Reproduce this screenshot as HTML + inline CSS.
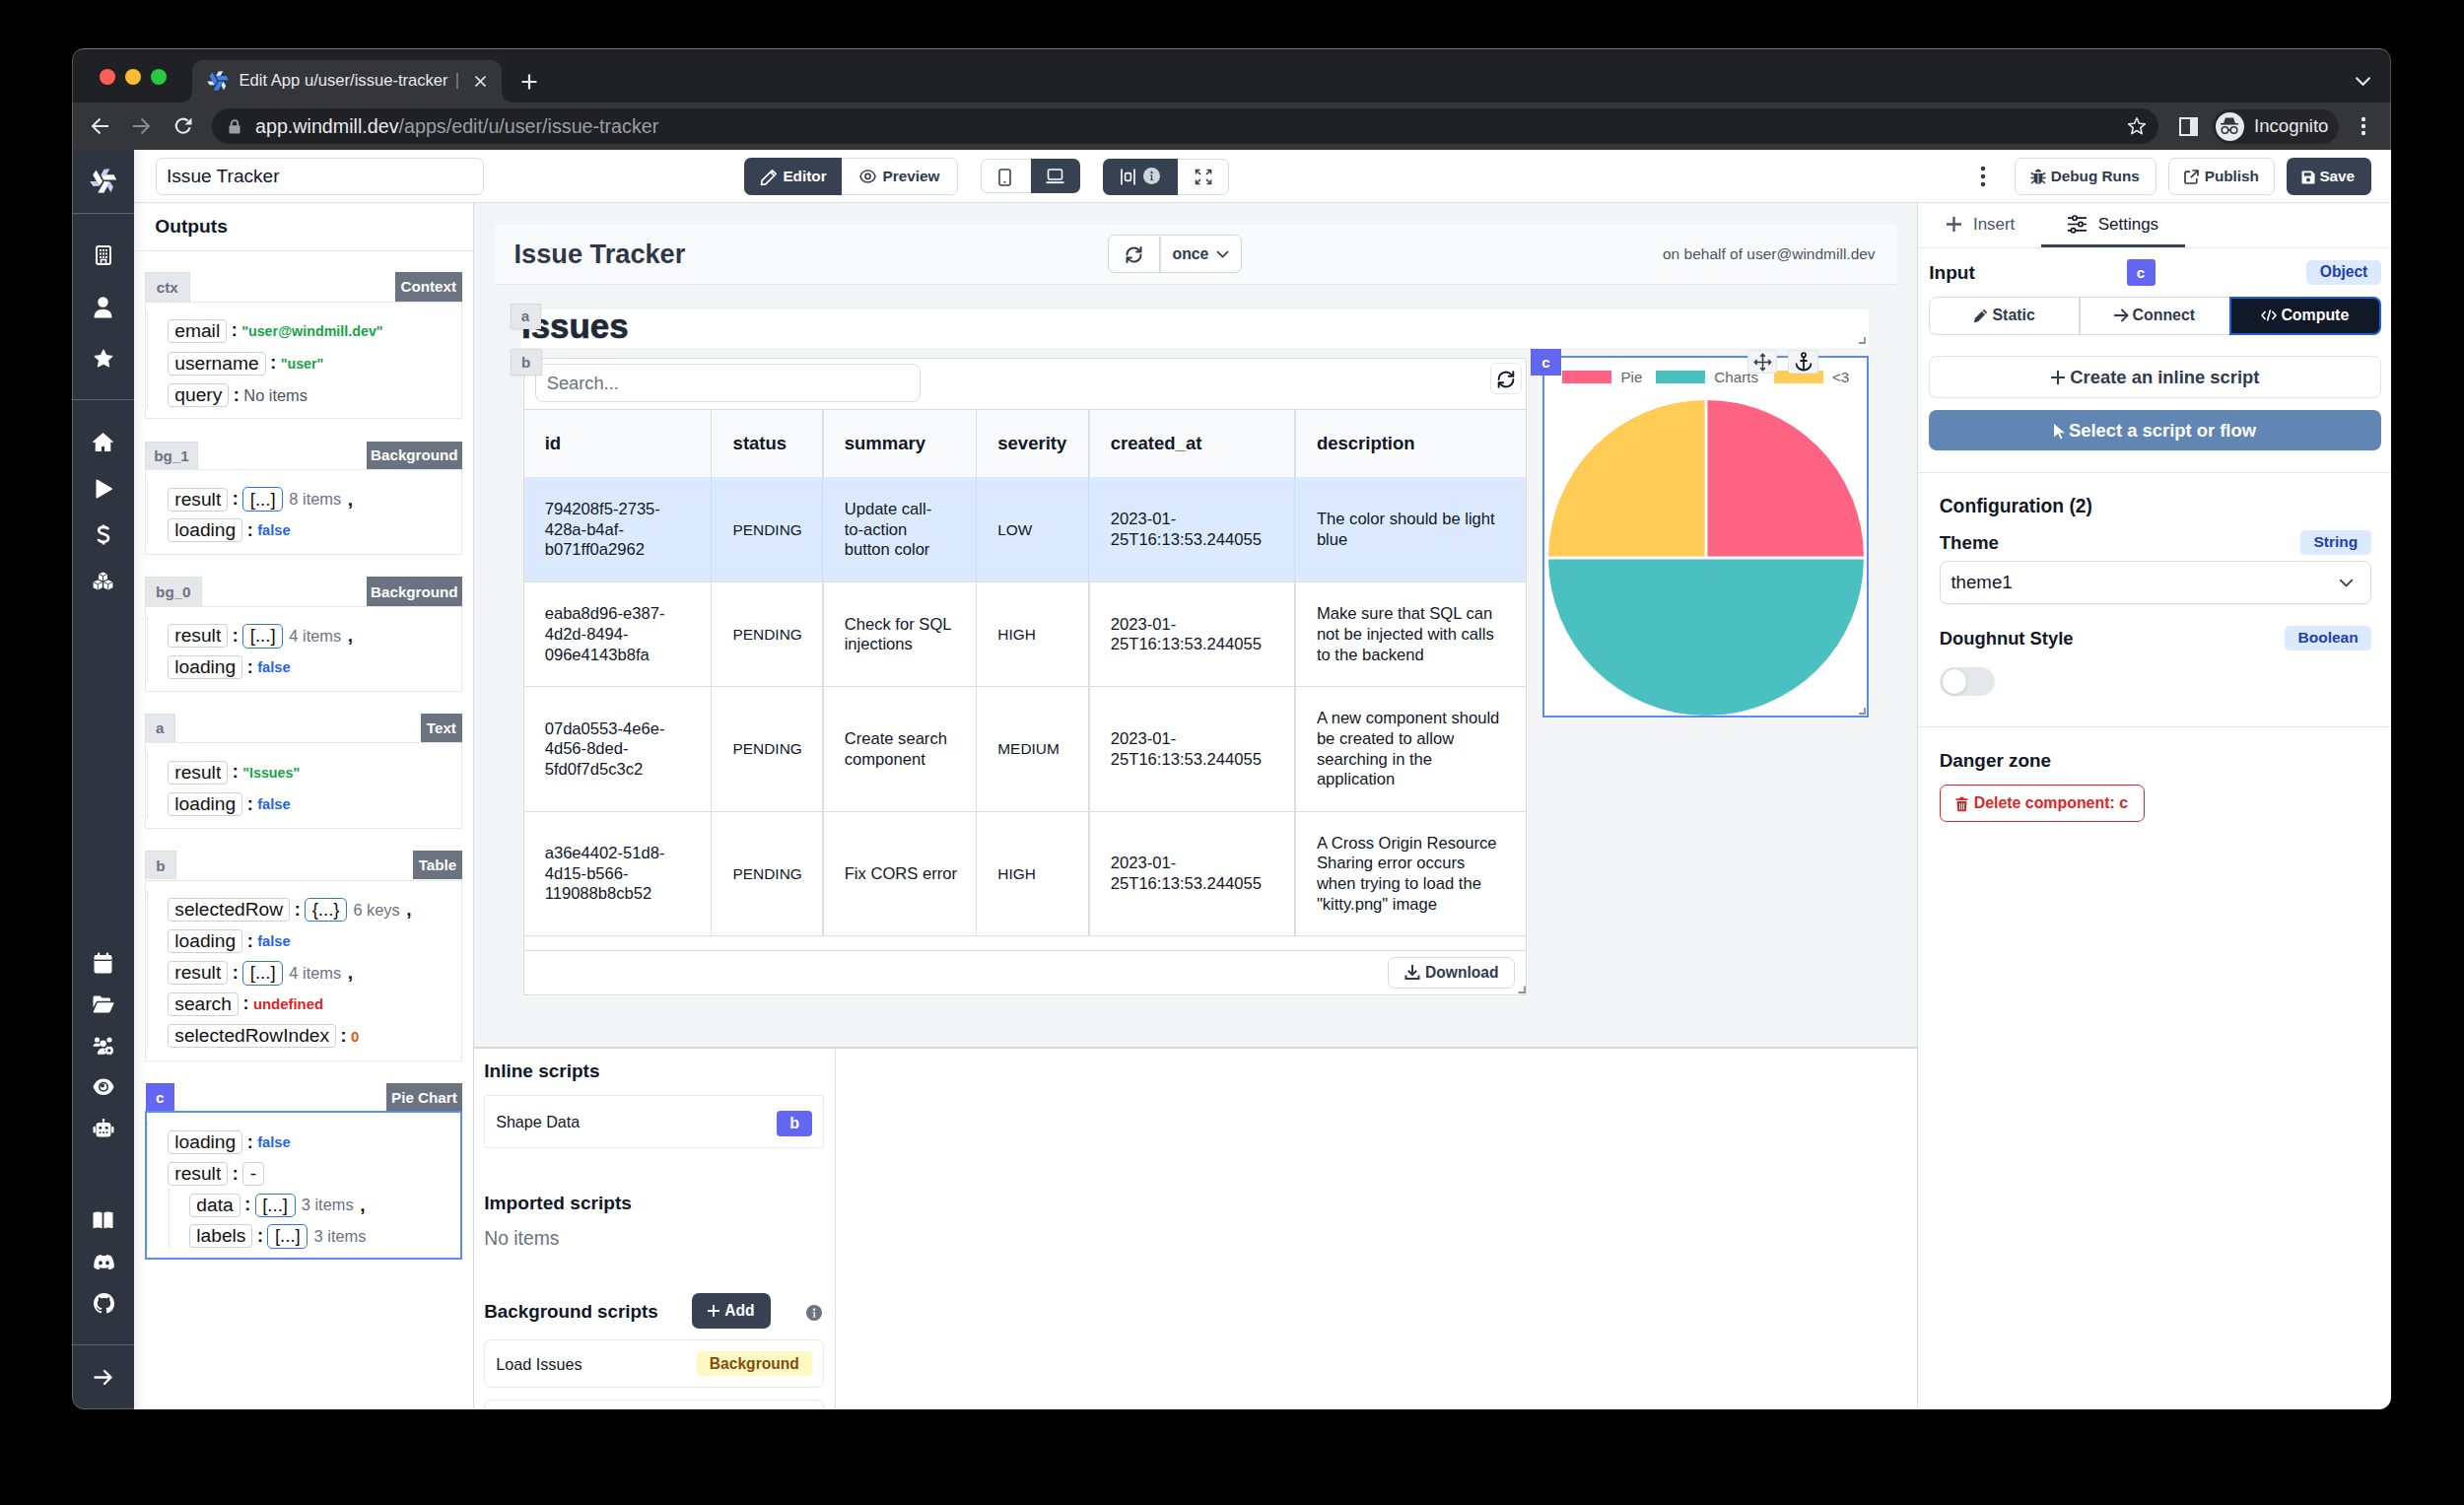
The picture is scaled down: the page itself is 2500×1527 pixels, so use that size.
<!DOCTYPE html>
<html><head><meta charset="utf-8">
<style>
*{box-sizing:border-box;margin:0;padding:0}
html,body{width:2500px;height:1527px;background:#000;overflow:hidden;font-family:"Liberation Sans",sans-serif;color:#111827}
body{position:relative}
.a{position:absolute}
.c{display:flex;align-items:center}
.cc{display:flex;align-items:center;justify-content:center}
svg{display:block}
.t{white-space:nowrap;position:absolute}
.pk{display:inline-flex;align-items:center;height:24px;padding:0 6px;border:1.2px solid #cdd0d5;border-radius:4px;font-size:19.2px;color:#111;background:#fff}
.pd{padding:0 6.5px}
.co{display:inline-block;width:15px;text-align:center;font-size:18px;font-weight:700;color:#111}
.pa{display:inline-flex;align-items:center;height:24.5px;padding:0 6.5px;border:1.7px solid #3573e0;border-radius:5px;font-size:18.6px;color:#111}
.vg{font-size:14.3px;font-weight:700;color:#16a34a}
.vb{font-size:14.7px;font-weight:700;color:#2563eb}
.vr{font-size:14.9px;font-weight:700;color:#dc2626}
.vo{font-size:15px;font-weight:700;color:#ea580c}
.vn{font-size:16.4px;color:#4b5563}
.vc{margin-left:6.3px;color:#6b7280}
.cm{margin-left:6.5px;font-size:19px;font-weight:700;color:#111}

</style></head><body>
<!-- ============ CHROME ============ -->
<svg width="0" height="0" style="position:absolute">
 <defs>
  <symbol id="wm" viewBox="-570 -510 1120 1020">
   <path fill="var(--w)" d="M-100 -260 L430 -260 L540 -40 L0 -40Z M275 43 L10 502 L-235 488 L35 20Z M-175 217 L-440 -242 L-305 -448 L-35 20Z"/>
   <path fill="var(--l)" d="M-100 -260 L20 -480 L260 -500 L130 -270Z M275 43 L406 257 L303 475 L169 248Z M-175 217 L-426 223 L-563 25 L-299 22Z"/>
  </symbol>
 </defs>
</svg>
<div class="a" style="left:73px;top:49px;width:2353px;height:1381px;background:#202124;border-radius:12px"></div>
<div class="a" style="left:73px;top:49px;width:2353px;height:20px;border-radius:11px 11px 0 0;box-shadow:inset 0 1px 0 #4a4b4e"></div>
<div class="a" style="left:100.5px;top:69.7px;width:16px;height:16px;border-radius:50%;background:#fe5f57"></div>
<div class="a" style="left:126.5px;top:69.7px;width:16px;height:16px;border-radius:50%;background:#febc2e"></div>
<div class="a" style="left:152.8px;top:69.7px;width:16px;height:16px;border-radius:50%;background:#28c840"></div>
<!-- active tab -->
<div class="a" style="left:195px;top:60.5px;width:314px;height:44px;background:#35363a;border-radius:11px 11px 0 0"></div>
<div class="a" style="left:184px;top:93px;width:11px;height:11px;background:radial-gradient(circle at 0 0,transparent 10.5px,#35363a 11px)"></div>
<div class="a" style="left:509px;top:93px;width:11px;height:11px;background:radial-gradient(circle at 100% 0,transparent 10.5px,#35363a 11px)"></div>
<svg class="a" style="left:210px;top:72px;--w:#3b82f6;--l:#dbeafe" width="22" height="20"><use href="#wm"/></svg>
<div class="t" style="left:242.5px;top:72px;height:20px;line-height:20px;font-size:16.6px;color:#e8eaed">Edit App u/user/issue-tracker</div>
<div class="a" style="left:463px;top:74px;width:1.5px;height:16px;background:#6f7074"></div>
<svg class="a" style="left:481px;top:76px" width="13" height="13" viewBox="0 0 13 13"><path d="M1.5 1.5L11.5 11.5M11.5 1.5L1.5 11.5" stroke="#e8eaed" stroke-width="1.7"/></svg>
<svg class="a" style="left:529px;top:74.5px" width="16" height="16" viewBox="0 0 16 16"><path d="M8 0.5V15.5M0.5 8H15.5" stroke="#e8eaed" stroke-width="2.2"/></svg>
<svg class="a" style="left:2389px;top:77px" width="17" height="11" viewBox="0 0 17 11"><path d="M1.5 1.8L8.5 8.8L15.5 1.8" stroke="#e8eaed" stroke-width="2" fill="none"/></svg>
<!-- toolbar -->
<div class="a" style="left:73px;top:103.5px;width:2353px;height:48.5px;background:#35363a"></div>
<svg class="a" style="left:92px;top:119px" width="19" height="18" viewBox="0 0 19 18"><path d="M18 9H2.5M9.5 1.5L2 9L9.5 16.5" stroke="#e8eaed" stroke-width="2" fill="none"/></svg>
<svg class="a" style="left:134px;top:119px" width="19" height="18" viewBox="0 0 19 18"><path d="M1 9H16.5M9.5 1.5L17 9L9.5 16.5" stroke="#8a8b8f" stroke-width="2" fill="none"/></svg>
<svg class="a" style="left:175.5px;top:118px" width="20" height="20" viewBox="0 0 20 20"><path d="M16.6 11.2A7 7 0 1 1 14.6 4.6" stroke="#e8eaed" stroke-width="2.1" fill="none"/><path d="M18.5 1.5V8.5H11.5Z" fill="#e8eaed"/></svg>
<div class="a" style="left:215px;top:110px;width:1975px;height:36px;border-radius:18px;background:#202124"></div>
<svg class="a" style="left:232px;top:120.5px" width="12" height="15" viewBox="0 0 12 15"><path d="M2.8 6.5V4.3A3.2 3.2 0 0 1 9.2 4.3V6.5" stroke="#9aa0a6" stroke-width="1.8" fill="none"/><rect x="0.5" y="6.3" width="11" height="8.2" rx="1.2" fill="#9aa0a6"/></svg>
<div class="t" style="left:259px;top:116px;height:24px;line-height:24px;font-size:19.7px;color:#e8eaed">app.windmill.dev<span style="color:#9aa0a6">/apps/edit/u/user/issue-tracker</span></div>
<svg class="a" style="left:2158px;top:118px" width="20" height="20" viewBox="0 0 20 20"><path d="M10 1.8L12.4 7.3L18.3 7.8L13.8 11.7L15.2 17.6L10 14.5L4.8 17.6L6.2 11.7L1.7 7.8L7.6 7.3Z" stroke="#e8eaed" stroke-width="1.6" fill="none" stroke-linejoin="round"/></svg>
<svg class="a" style="left:2211px;top:118.5px" width="19" height="19" viewBox="0 0 19 19"><rect x="1" y="1" width="17" height="17" fill="none" stroke="#e8eaed" stroke-width="2"/><rect x="11" y="1" width="7" height="17" fill="#e8eaed"/></svg>
<div class="a" style="left:2244.5px;top:110.5px;width:128.5px;height:35px;border-radius:17.5px;background:#242528"></div>
<div class="a" style="left:2247.5px;top:113.5px;width:29px;height:29px;border-radius:50%;background:#e8eaed"></div>
<svg class="a" style="left:2251px;top:118px" width="22" height="20" viewBox="0 0 22 20"><path d="M5 7L7 1.5H15L17 7Z" fill="#35363a"/><rect x="2" y="7" width="18" height="1.6" fill="#35363a"/><circle cx="6.5" cy="14" r="3.3" fill="none" stroke="#35363a" stroke-width="1.6"/><circle cx="15.5" cy="14" r="3.3" fill="none" stroke="#35363a" stroke-width="1.6"/><path d="M9.8 14H12.2" stroke="#35363a" stroke-width="1.6"/></svg>
<div class="t" style="left:2287px;top:116px;height:24px;line-height:24px;font-size:18.6px;color:#e8eaed">Incognito</div>
<svg class="a" style="left:2394px;top:118px" width="8" height="20" viewBox="0 0 8 20"><circle cx="4" cy="3" r="2.2" fill="#e8eaed"/><circle cx="4" cy="10" r="2.2" fill="#e8eaed"/><circle cx="4" cy="17" r="2.2" fill="#e8eaed"/></svg>

<!-- ============ APP ============ -->
<div class="a" style="left:73px;top:152px;width:63px;height:1278px;background:#2e3440"></div>
<div class="a" style="left:136px;top:152px;width:2290px;height:1278px;background:#fff"></div>
<!-- header border -->
<div class="a" style="left:136px;top:204.8px;width:2290px;height:1.3px;background:#dcdfe3"></div>
<!-- left panel border -->
<div class="a" style="left:479.5px;top:206px;width:1.4px;height:1224px;background:#d6d9dd"></div>
<!-- canvas -->
<div class="a" style="left:481px;top:206px;width:1464px;height:857px;background:#f3f4f6"></div>
<!-- right panel border -->
<div class="a" style="left:1945px;top:206px;width:1.4px;height:1224px;background:#d6d9dd"></div>

<div class="a" style="left:136px;top:152px;width:11px;height:1278px;background:linear-gradient(90deg,rgba(30,40,60,0.07),rgba(30,40,60,0))"></div>
<!-- ============ SIDEBAR ============ -->
<svg class="a" style="left:91px;top:170.5px;--w:#f8fafc;--l:#c3cff3" width="27.5" height="25"><use href="#wm"/></svg>
<div class="a" style="left:73px;top:215.5px;width:63px;height:1px;background:#5d636f"></div>
<div class="a" style="left:73px;top:404.5px;width:63px;height:1px;background:#5d636f"></div>
<div class="a" style="left:73px;top:1364px;width:63px;height:1px;background:#5d636f"></div>
<!-- building -->
<svg class="a" style="left:96.5px;top:249px" width="16" height="20" viewBox="0 0 16 20"><rect x="1" y="1" width="14" height="18" rx="2" fill="none" stroke="#fff" stroke-width="2"/><g fill="#fff"><rect x="4" y="4" width="2" height="2"/><rect x="7" y="4" width="2" height="2"/><rect x="10" y="4" width="2" height="2"/><rect x="4" y="7.5" width="2" height="2"/><rect x="7" y="7.5" width="2" height="2"/><rect x="10" y="7.5" width="2" height="2"/><rect x="4" y="11" width="2" height="2"/><rect x="7" y="11" width="2" height="2"/><rect x="10" y="11" width="2" height="2"/></g><rect x="5.5" y="14.5" width="5" height="4.5" fill="none" stroke="#fff" stroke-width="1.6"/></svg>
<!-- user -->
<svg class="a" style="left:95px;top:300.5px" width="19" height="22" viewBox="0 0 19 22"><circle cx="9.5" cy="5.5" r="5.2" fill="#fff"/><path d="M0.5 21.5C0.5 15.5 4 12.8 9.5 12.8S18.5 15.5 18.5 21.5Z" fill="#fff"/></svg>
<!-- star -->
<svg class="a" style="left:94.5px;top:353.5px" width="20" height="20" viewBox="0 0 20 20"><path d="M10 0.8L12.8 6.6L19.2 7.4L14.5 11.8L15.7 18.2L10 15.1L4.3 18.2L5.5 11.8L0.8 7.4L7.2 6.6Z" fill="#fff" stroke="#fff" stroke-width="1" stroke-linejoin="round"/></svg>
<!-- home -->
<svg class="a" style="left:94px;top:438.5px" width="21" height="19.5" viewBox="0 0 21 19.5"><path d="M10.5 0.5L20.5 9.3H17.8V19H12.6V13.4H8.4V19H3.2V9.3H0.5Z" fill="#fff" stroke="#fff" stroke-width="1" stroke-linejoin="round"/></svg>
<!-- play -->
<svg class="a" style="left:96.5px;top:485.5px" width="17" height="20" viewBox="0 0 17 20"><path d="M1.5 1.5L16 10L1.5 18.5Z" fill="#fff" stroke="#fff" stroke-width="2" stroke-linejoin="round"/></svg>
<!-- dollar -->
<svg class="a" style="left:98px;top:532px" width="14" height="21" viewBox="0 0 14 21"><path d="M12 5.2C11.3 3.6 9.5 2.8 7 2.8C4 2.8 2.2 4.2 2.2 6.2C2.2 10.8 12 8.6 12 14C12 16.2 10 17.8 7 17.8C4.2 17.8 2.4 16.8 1.6 15" fill="none" stroke="#fff" stroke-width="2.7"/><path d="M7 0.5V3M7 17.5V20.5" stroke="#fff" stroke-width="2.7"/></svg>
<!-- cubes -->
<svg class="a" style="left:94px;top:580px" width="21" height="19" viewBox="0 0 21 19"><g fill="#fff"><path d="M10.5 0.5L15 2.5V7.6L10.5 9.6L6 7.6V2.5Z"/><path d="M5.3 8.6L9.8 10.6V16.2L5.3 18.4L0.6 16.2V10.6Z"/><path d="M15.7 8.6L20.4 10.6V16.2L15.7 18.4L11.2 16.2V10.6Z"/></g><g stroke="#2e3440" stroke-width="0.9" fill="none"><path d="M6 2.5L10.5 4.5L15 2.5M10.5 4.5V9.6"/><path d="M0.6 10.6L5.3 12.6L9.8 10.6M5.3 12.6V18.4"/><path d="M11.2 10.6L15.7 12.6L20.4 10.6M15.7 12.6V18.4"/></g></svg>
<!-- calendar -->
<svg class="a" style="left:95px;top:965.5px" width="19" height="22" viewBox="0 0 19 22"><rect x="0.5" y="3" width="18" height="18.5" rx="2.2" fill="#fff"/><rect x="0.5" y="7.6" width="18" height="1.4" fill="#2e3440"/><rect x="4" y="0.5" width="2.2" height="5" rx="1" fill="#fff"/><rect x="12.8" y="0.5" width="2.2" height="5" rx="1" fill="#fff"/></svg>
<!-- folder open -->
<svg class="a" style="left:94px;top:1009.5px" width="22" height="18" viewBox="0 0 22 18"><path d="M0.5 2C0.5 1.2 1.2 0.5 2 0.5H7.5L9.5 2.5H16.5C17.3 2.5 18 3.2 18 4V5.8H5.2C4.4 5.8 3.8 6.2 3.4 6.9L0.5 12.5Z" fill="#fff"/><path d="M5.5 7.3H20.8C21.4 7.3 21.7 7.9 21.4 8.4L17.6 16.8C17.3 17.3 16.9 17.5 16.4 17.5H1.4C0.8 17.5 0.5 16.9 0.8 16.4L4.4 7.9C4.6 7.5 5 7.3 5.5 7.3Z" fill="#fff"/></svg>
<!-- users cog -->
<svg class="a" style="left:94px;top:1051.5px" width="22" height="19" viewBox="0 0 22 19"><g fill="#fff"><circle cx="4.5" cy="3" r="2.6"/><circle cx="17" cy="3" r="2.6"/><path d="M0.5 9.8C0.5 7.6 2 6.4 4.5 6.4S7.8 7.2 8.2 8.2C7.4 8.8 7 9.4 6.8 9.8Z"/><circle cx="10.6" cy="6.8" r="3.2"/><path d="M4.8 17.8C4.8 14.2 7 11.6 10.6 11.6C12 11.6 13 11.9 13.8 12.4L12.6 17.8Z"/><circle cx="16.8" cy="13.8" r="4.4"/></g><circle cx="16.8" cy="13.8" r="1.6" fill="#2e3440"/><g stroke="#2e3440" stroke-width="1.3"><path d="M16.8 8.8V10M16.8 17.6V18.8M11.8 13.8H13M20.6 13.8H21.8"/></g></svg>
<!-- eye -->
<svg class="a" style="left:94px;top:1093.5px" width="22" height="17.5" viewBox="0 0 22 17.5"><path d="M11 0.5C16 0.5 19.8 4 21.5 8.75C19.8 13.5 16 17 11 17S2.2 13.5 0.5 8.75C2.2 4 6 0.5 11 0.5Z" fill="#fff"/><circle cx="11" cy="8.75" r="5" fill="#2e3440"/><circle cx="11" cy="8.75" r="3.4" fill="#fff"/><circle cx="10" cy="7.6" r="2" fill="#2e3440"/></svg>
<!-- robot -->
<svg class="a" style="left:94px;top:1135px" width="22" height="19" viewBox="0 0 22 19"><rect x="10.2" y="0" width="1.6" height="4" fill="#fff"/><circle cx="11" cy="1.2" r="1.2" fill="#fff"/><rect x="3.5" y="4" width="15" height="14.5" rx="3" fill="#fff"/><rect x="0.5" y="8" width="2.4" height="6.5" rx="1" fill="#fff"/><rect x="19.1" y="8" width="2.4" height="6.5" rx="1" fill="#fff"/><g fill="#2e3440"><circle cx="7.8" cy="9.3" r="1.5"/><circle cx="14.2" cy="9.3" r="1.5"/><rect x="6.5" y="13.4" width="2" height="1.5"/><rect x="10" y="13.4" width="2" height="1.5"/><rect x="13.5" y="13.4" width="2" height="1.5"/></g></svg>
<!-- book -->
<svg class="a" style="left:94px;top:1229px" width="21" height="18" viewBox="0 0 21 18"><path d="M0.5 1.5C3.5 0.3 7 0.3 9.6 1.6V17.3C7 16.2 3.5 16.2 0.5 17.3Z" fill="#fff"/><path d="M20.5 1.5C17.5 0.3 14 0.3 11.4 1.6V17.3C14 16.2 17.5 16.2 20.5 17.3Z" fill="#fff"/></svg>
<!-- discord -->
<svg class="a" style="left:94.5px;top:1273px" width="21" height="15" viewBox="0 0 21 15"><path d="M17.6 1.3C16.2 0.7 14.8 0.3 13.3 0L12.8 1.1C11.2 0.9 9.7 0.9 8.2 1.1L7.7 0C6.2 0.3 4.8 0.7 3.4 1.3C0.7 5.3 0 9.2 0.3 13C2.1 14.3 3.8 15 5.5 15.5L6.6 13.8C6 13.6 5.4 13.3 4.9 13L5.3 12.7C8.6 14.2 12.4 14.2 15.7 12.7L16.1 13C15.6 13.3 15 13.6 14.4 13.8L15.5 15.5C17.2 15 18.9 14.3 20.7 13C21.1 8.6 20 4.7 17.6 1.3Z" fill="#fff"/><ellipse cx="7" cy="8.4" rx="1.9" ry="2.1" fill="#2e3440"/><ellipse cx="14" cy="8.4" rx="1.9" ry="2.1" fill="#2e3440"/></svg>
<!-- github -->
<svg class="a" style="left:94.5px;top:1311.5px" width="21" height="21" viewBox="0 0 16 16"><path fill="#fff" d="M8 0C3.58 0 0 3.58 0 8c0 3.54 2.29 6.53 5.47 7.59.4.07.55-.17.55-.38 0-.19-.01-.82-.01-1.49-2.01.37-2.53-.49-2.69-.94-.09-.23-.48-.94-.82-1.13-.28-.15-.68-.52-.01-.53.63-.01 1.08.58 1.23.82.72 1.21 1.87.87 2.33.66.07-.52.28-.87.51-1.07-1.78-.2-3.64-.89-3.64-3.95 0-.87.31-1.59.82-2.15-.08-.2-.36-1.02.08-2.12 0 0 .67-.21 2.2.82.64-.18 1.32-.27 2-.27.68 0 1.36.09 2 .27 1.53-1.04 2.2-.82 2.2-.82.44 1.1.16 1.92.08 2.12.51.56.82 1.27.82 2.15 0 3.07-1.87 3.75-3.65 3.95.29.25.54.73.54 1.48 0 1.07-.01 1.93-.01 2.2 0 .21.15.46.55.38A8.013 8.013 0 0016 8c0-4.42-3.58-8-8-8z"/></svg>
<!-- arrow -->
<svg class="a" style="left:95px;top:1389px" width="20" height="17" viewBox="0 0 20 17"><path d="M1.5 8.5H17.5M11 2L17.5 8.5L11 15" fill="none" stroke="#fff" stroke-width="2.4" stroke-linecap="round" stroke-linejoin="round"/></svg>

<!-- ============ HEADER ============ -->
<div class="a" style="left:157.5px;top:160px;width:333px;height:38px;border:1.5px solid #d8dbe0;border-radius:7px"></div>
<div class="t" style="left:169px;top:167px;height:24px;line-height:24px;font-size:19.1px;color:#111827">Issue Tracker</div>
<div class="a" style="left:755px;top:160px;width:217px;height:38px;border:1.5px solid #d8dbe0;border-radius:7px"></div>
<div class="a" style="left:755px;top:160px;width:99px;height:38px;background:#374151;border-radius:7px 0 0 7px"></div>
<svg class="a" style="left:770.5px;top:170.5px" width="18" height="18" viewBox="0 0 18 18"><path d="M12.5 1.8L16.2 5.5L5.8 15.9L1.5 16.5L2.1 12.2Z M10.8 3.5L14.5 7.2" fill="none" stroke="#fff" stroke-width="1.7" stroke-linejoin="round"/></svg>
<div class="t" style="left:794.4px;top:169px;height:20px;line-height:20px;font-size:15.3px;font-weight:700;color:#fff">Editor</div>
<svg class="a" style="left:872px;top:172px" width="17" height="14" viewBox="0 0 17 14"><path d="M8.5 1C12.5 1 15.3 4 16 7C15.3 10 12.5 13 8.5 13S1.7 10 1 7C1.7 4 4.5 1 8.5 1Z" fill="none" stroke="#374151" stroke-width="1.6"/><circle cx="8.5" cy="7" r="2.6" fill="none" stroke="#374151" stroke-width="1.6"/></svg>
<div class="t" style="left:895.5px;top:169px;height:20px;line-height:20px;font-size:15.3px;font-weight:700;color:#2f3b4d">Preview</div>

<div class="a" style="left:994.5px;top:161px;width:101px;height:35px;border:1.5px solid #d8dbe0;border-radius:7px"></div>
<div class="a" style="left:1045.7px;top:161px;width:50px;height:35px;background:#374151;border-radius:0 7px 7px 0"></div>
<svg class="a" style="left:1013px;top:170.5px" width="13" height="18" viewBox="0 0 13 18"><rect x="1" y="1" width="11" height="16" rx="2" fill="none" stroke="#374151" stroke-width="1.6"/><rect x="5.6" y="13" width="1.8" height="1.6" fill="#374151"/></svg>
<svg class="a" style="left:1061px;top:171px" width="19" height="16" viewBox="0 0 19 16"><rect x="2.5" y="1" width="14" height="10" rx="1.5" fill="none" stroke="#fff" stroke-width="1.6"/><path d="M0.5 14.2H18.5" stroke="#fff" stroke-width="1.8"/></svg>

<div class="a" style="left:1119.3px;top:160.7px;width:127.3px;height:37px;border:1.5px solid #d8dbe0;border-radius:7px"></div>
<div class="a" style="left:1119.3px;top:160.7px;width:75.5px;height:37px;background:#374151;border-radius:7px 0 0 7px"></div>
<svg class="a" style="left:1136.5px;top:170.5px" width="15" height="17" viewBox="0 0 15 17"><path d="M1 0.5V16.5M14 0.5V16.5" stroke="#fff" stroke-width="1.6"/><rect x="4.6" y="4.6" width="5.8" height="7.8" rx="1.6" fill="none" stroke="#fff" stroke-width="1.6"/></svg>
<div class="a" style="left:1160.2px;top:170.2px;width:17px;height:17px;border-radius:50%;background:#cfd3da"></div>
<svg class="a" style="left:1160.2px;top:170.2px" width="17" height="17" viewBox="0 0 17 17"><circle cx="8.5" cy="5" r="1.2" fill="#374151"/><path d="M7 7.5H9.2V12.3H10.2V13H6.9V12.3H7.9V8.2H7Z" fill="#374151"/></svg>
<svg class="a" style="left:1212px;top:171px" width="18" height="17" viewBox="0 0 18 17"><g fill="none" stroke="#374151" stroke-width="1.6"><path d="M1.5 5.5V1.5H5.5M1.5 1.5L6 6"/><path d="M16.5 5.5V1.5H12.5M16.5 1.5L12 6"/><path d="M1.5 11.5V15.5H5.5M1.5 15.5L6 11"/><path d="M16.5 11.5V15.5H12.5M16.5 15.5L12 11"/></g></svg>

<svg class="a" style="left:2007.5px;top:168px" width="8" height="22" viewBox="0 0 8 22"><circle cx="4" cy="3" r="2.3" fill="#2f3b4d"/><circle cx="4" cy="11" r="2.3" fill="#2f3b4d"/><circle cx="4" cy="19" r="2.3" fill="#2f3b4d"/></svg>
<div class="a" style="left:2043.7px;top:160px;width:144.3px;height:38px;border:1.5px solid #d8dbe0;border-radius:7px"></div>
<svg class="a" style="left:2059.5px;top:171px" width="16" height="17" viewBox="0 0 16 17"><g fill="#2f3b4d"><path d="M5 3.5C5 1.9 6.3 0.8 8 0.8S11 1.9 11 3.5Z"/><path d="M3.6 5H12.4V11C12.4 13.6 10.4 15.8 8 15.8S3.6 13.6 3.6 11Z"/></g><g stroke="#2f3b4d" stroke-width="1.5"><path d="M0.8 4.5L3.6 6.2M15.2 4.5L12.4 6.2M0.5 9.5H3.6M15.5 9.5H12.4M1 15L3.8 12.6M15 15L12.2 12.6"/></g><path d="M8 5.5V15.5" stroke="#fff" stroke-width="1"/></svg>
<div class="t" style="left:2080.7px;top:169px;height:20px;line-height:20px;font-size:15.3px;font-weight:700;color:#2f3b4d">Debug Runs</div>
<div class="a" style="left:2200px;top:160px;width:108.3px;height:38px;border:1.5px solid #d8dbe0;border-radius:7px"></div>
<svg class="a" style="left:2215.5px;top:172px" width="15" height="15" viewBox="0 0 15 15"><path d="M6 2.2H2.2C1.5 2.2 1 2.7 1 3.4V12.8C1 13.5 1.5 14 2.2 14H11.6C12.3 14 12.8 13.5 12.8 12.8V9" fill="none" stroke="#2f3b4d" stroke-width="1.7"/><path d="M8.5 1H14V6.5M14 1L6.8 8.2" fill="none" stroke="#2f3b4d" stroke-width="1.7"/></svg>
<div class="t" style="left:2236.7px;top:169px;height:20px;line-height:20px;font-size:15.3px;font-weight:700;color:#2f3b4d">Publish</div>
<div class="a" style="left:2320px;top:160px;width:85.5px;height:38px;background:#374151;border-radius:7px"></div>
<svg class="a" style="left:2334.5px;top:172.5px" width="14" height="14" viewBox="0 0 14 14"><path d="M1.5 0.5H10.5L13.5 3.5V12.5C13.5 13.1 13.1 13.5 12.5 13.5H1.5C0.9 13.5 0.5 13.1 0.5 12.5V1.5C0.5 0.9 0.9 0.5 1.5 0.5Z" fill="#fff"/><rect x="2.8" y="2.3" width="7" height="3.3" fill="#374151"/><circle cx="7" cy="9.5" r="2" fill="#374151"/></svg>
<div class="t" style="left:2353.4px;top:169px;height:20px;line-height:20px;font-size:15.3px;font-weight:700;color:#fff">Save</div>

<!-- ============ LEFT PANEL ============ -->
<div class="t" style="left:157.3px;top:218px;height:24px;line-height:24px;font-size:19.2px;font-weight:700;color:#111827">Outputs</div>
<div class="a" style="left:136px;top:254px;width:344px;height:1px;background:#e5e7eb"></div>
<div class="a" style="left:147px;top:305.7px;width:321.7px;height:119.6px;border:1px solid #e5e7eb"></div>
<div class="a" style="left:148.5px;top:316.7px;width:0;height:97.6px;border-left:1px dotted #d1d5db"></div>
<div class="a cc" style="left:147px;top:276.2px;width:45.6px;height:29.5px;background:#e5e7eb;border:1px solid #dcdfe4;border-bottom:none;color:#6b7280;font-weight:700;font-size:15.2px">ctx</div>
<div class="a cc" style="left:400.8px;top:276.2px;width:67.9px;height:29.5px;background:#6b7280;color:#fff;font-weight:700;font-size:15.2px">Context</div>
<div class="a c" style="left:170.3px;top:323.8px;height:24px"><span class="pk">email</span><span class="co">:</span><span class="vg">"user@windmill.dev"</span></div>
<div class="a c" style="left:170.3px;top:356.6px;height:24px"><span class="pk">username</span><span class="co">:</span><span class="vg">"user"</span></div>
<div class="a c" style="left:170.3px;top:389.4px;height:24px"><span class="pk">query</span><span class="co">:</span><span class="vn">No items</span></div>
<div class="a" style="left:147px;top:476.2px;width:321.7px;height:86.7px;border:1px solid #e5e7eb"></div>
<div class="a" style="left:148.5px;top:487.2px;width:0;height:64.7px;border-left:1px dotted #d1d5db"></div>
<div class="a cc" style="left:147px;top:447.5px;width:53.8px;height:28.7px;background:#e5e7eb;border:1px solid #dcdfe4;border-bottom:none;color:#6b7280;font-weight:700;font-size:15.2px">bg_1</div>
<div class="a cc" style="left:372.0px;top:447.5px;width:96.7px;height:28.7px;background:#6b7280;color:#fff;font-weight:700;font-size:15.2px">Background</div>
<div class="a c" style="left:170.3px;top:494.5px;height:24px"><span class="pk">result</span><span class="co">:</span><span class="pa">[...]</span><span class="vn vc">8 items</span><span class="cm">,</span></div>
<div class="a c" style="left:170.3px;top:526.0px;height:24px"><span class="pk">loading</span><span class="co">:</span><span class="vb">false</span></div>
<div class="a" style="left:147px;top:615.0px;width:321.7px;height:86.8px;border:1px solid #e5e7eb"></div>
<div class="a" style="left:148.5px;top:626.0px;width:0;height:64.8px;border-left:1px dotted #d1d5db"></div>
<div class="a cc" style="left:147px;top:585.1px;width:57.7px;height:29.9px;background:#e5e7eb;border:1px solid #dcdfe4;border-bottom:none;color:#6b7280;font-weight:700;font-size:15.2px">bg_0</div>
<div class="a cc" style="left:372.0px;top:585.1px;width:96.7px;height:29.9px;background:#6b7280;color:#fff;font-weight:700;font-size:15.2px">Background</div>
<div class="a c" style="left:170.3px;top:633.4px;height:24px"><span class="pk">result</span><span class="co">:</span><span class="pa">[...]</span><span class="vn vc">4 items</span><span class="cm">,</span></div>
<div class="a c" style="left:170.3px;top:665.2px;height:24px"><span class="pk">loading</span><span class="co">:</span><span class="vb">false</span></div>
<div class="a" style="left:147px;top:752.8px;width:321.7px;height:88.2px;border:1px solid #e5e7eb"></div>
<div class="a" style="left:148.5px;top:763.8px;width:0;height:66.2px;border-left:1px dotted #d1d5db"></div>
<div class="a cc" style="left:147px;top:724.0px;width:30.6px;height:28.8px;background:#e5e7eb;border:1px solid #dcdfe4;border-bottom:none;color:#6b7280;font-weight:700;font-size:15.2px">a</div>
<div class="a cc" style="left:427.1px;top:724.0px;width:41.6px;height:28.8px;background:#6b7280;color:#fff;font-weight:700;font-size:15.2px">Text</div>
<div class="a c" style="left:170.3px;top:771.6px;height:24px"><span class="pk">result</span><span class="co">:</span><span class="vg">"Issues"</span></div>
<div class="a c" style="left:170.3px;top:804.0px;height:24px"><span class="pk">loading</span><span class="co">:</span><span class="vb">false</span></div>
<div class="a" style="left:147px;top:892.5px;width:321.7px;height:184.0px;border:1px solid #e5e7eb"></div>
<div class="a" style="left:148.5px;top:903.5px;width:0;height:162.0px;border-left:1px dotted #d1d5db"></div>
<div class="a cc" style="left:147px;top:863.3px;width:31.8px;height:29.2px;background:#e5e7eb;border:1px solid #dcdfe4;border-bottom:none;color:#6b7280;font-weight:700;font-size:15.2px">b</div>
<div class="a cc" style="left:419.2px;top:863.3px;width:49.5px;height:29.2px;background:#6b7280;color:#fff;font-weight:700;font-size:15.2px">Table</div>
<div class="a c" style="left:170.3px;top:911.2px;height:24px"><span class="pk">selectedRow</span><span class="co">:</span><span class="pa">{...}</span><span class="vn vc">6 keys</span><span class="cm">,</span></div>
<div class="a c" style="left:170.3px;top:943.0px;height:24px"><span class="pk">loading</span><span class="co">:</span><span class="vb">false</span></div>
<div class="a c" style="left:170.3px;top:975.3px;height:24px"><span class="pk">result</span><span class="co">:</span><span class="pa">[...]</span><span class="vn vc">4 items</span><span class="cm">,</span></div>
<div class="a c" style="left:170.3px;top:1006.9px;height:24px"><span class="pk">search</span><span class="co">:</span><span class="vr">undefined</span></div>
<div class="a c" style="left:170.3px;top:1039.4px;height:24px"><span class="pk">selectedRowIndex</span><span class="co">:</span><span class="vo">0</span></div>
<div class="a" style="left:147px;top:1127.0px;width:321.7px;height:151.2px;border:2px solid #5b8def"></div>
<div class="a" style="left:148.5px;top:1138.0px;width:0;height:129.2px;border-left:1px dotted #d1d5db"></div>
<div class="a cc" style="left:147.7px;top:1099.2px;width:29.3px;height:27.8px;background:#6366f1;color:#fff;font-weight:700;font-size:15.2px">c</div>
<div class="a cc" style="left:392.2px;top:1099.2px;width:76.5px;height:27.8px;background:#6b7280;color:#fff;font-weight:700;font-size:15.2px">Pie Chart</div>
<div class="a c" style="left:170.3px;top:1147.0px;height:24px"><span class="pk">loading</span><span class="co">:</span><span class="vb">false</span></div>
<div class="a c" style="left:170.3px;top:1179.0px;height:24px"><span class="pk">result</span><span class="co">:</span><span class="pk pd">-</span></div>
<div class="a c" style="left:192.3px;top:1210.8px;height:24px"><span class="pk">data</span><span class="co">:</span><span class="pa">[...]</span><span class="vn vc">3 items</span><span class="cm">,</span></div>
<div class="a c" style="left:192.3px;top:1242.3px;height:24px"><span class="pk">labels</span><span class="co">:</span><span class="pa">[...]</span><span class="vn vc">3 items</span></div>
<div class="a" style="left:170.5px;top:1206px;width:0;height:62px;border-left:1px dotted #d1d5db"></div>

<!-- ============ CANVAS ============ -->
<div class="a" style="left:502px;top:228px;width:1421.5px;height:60.5px;background:#f9fafb;border-bottom:1px solid #e5e7eb"></div>
<div class="t" style="left:521.5px;top:241px;height:34px;line-height:34px;font-size:27.2px;font-weight:700;color:#2d3748">Issue Tracker</div>
<div class="a" style="left:1123.7px;top:238px;width:136.8px;height:38.6px;background:#fff;border:1.5px solid #cfd2d7;border-radius:7px"></div>
<div class="a" style="left:1176.2px;top:239.5px;width:1.5px;height:36px;background:#d8dbe0"></div>
<svg class="a" style="left:1139.5px;top:247.5px" width="21" height="21" viewBox="0 0 24 24"><path d="M4 12a8 8 0 0 1 13.7-5.6L20 8.5M20 3.5v5h-5M20 12a8 8 0 0 1-13.7 5.6L4 15.5M4 20.5v-5h5" fill="none" stroke="#2f3b4d" stroke-width="2.3" stroke-linecap="round" stroke-linejoin="round"/></svg>
<div class="t" style="left:1189.5px;top:247px;height:22px;line-height:22px;font-size:15.8px;font-weight:700;color:#2f3b4d">once</div>
<svg class="a" style="left:1234px;top:253.5px" width="13" height="8" viewBox="0 0 13 8"><path d="M1 1.2L6.5 6.5L12 1.2" fill="none" stroke="#2f3b4d" stroke-width="1.7"/></svg>
<div class="t" style="left:1687px;top:248px;height:20px;line-height:20px;font-size:15.5px;color:#4b5563">on behalf of user@windmill.dev</div>
<div class="a" style="left:528.7px;top:314px;width:1367.5px;height:38.6px;background:#fff"></div>
<div class="t" style="left:529px;top:310px;height:42px;line-height:42px;font-size:34.9px;font-weight:700;color:#1f2937;-webkit-text-stroke:0.7px #1f2937">Issues</div>
<svg class="a" style="left:1885px;top:341px" width="8" height="8" viewBox="0 0 8 8"><path d="M7 1V7H1" fill="none" stroke="#8a8f98" stroke-width="1.8"/></svg>
<div class="a cc" style="left:517.5px;top:307.5px;width:31.1px;height:26.5px;background:#e5e7eb;border:1px solid #d6d9de;color:#6b7280;font-weight:700;font-size:15.2px;box-shadow:0 1px 2px rgba(0,0,0,.08)">a</div>
<div class="a" style="left:530.7px;top:362.5px;width:1018.8px;height:647.2px;background:#fff;border:1.5px solid #d5d8dc;box-shadow:0 0 0 1px #fff"></div>
<div class="a" style="left:542.5px;top:369px;width:391px;height:39.4px;border:1.5px solid #d8dbe0;border-radius:8px;background:#fff"></div>
<div class="t" style="left:554.7px;top:377px;height:24px;line-height:24px;font-size:18.3px;color:#6b7280">Search...</div>
<div class="a" style="left:1511.5px;top:368px;width:32.5px;height:32.3px;border:1px solid #e5e7eb;border-radius:6px;background:#fff"></div>
<svg class="a" style="left:1517px;top:373.5px" width="22" height="22" viewBox="0 0 24 24"><path d="M4 12a8 8 0 0 1 13.7-5.6L20 8.5M20 3.5v5h-5M20 12a8 8 0 0 1-13.7 5.6L4 15.5M4 20.5v-5h5" fill="none" stroke="#111827" stroke-width="2.1" stroke-linecap="round" stroke-linejoin="round"/></svg>
<div class="a" style="left:531.7px;top:414.8px;width:1016.8px;height:69.3px;background:#f9fafb;border-top:1.4px solid #d8dadf"></div>
<div class="t" style="left:552.7px;top:438px;height:24px;line-height:24px;font-size:18.5px;font-weight:700;color:#111827">id</div>
<div class="t" style="left:743.6px;top:438px;height:24px;line-height:24px;font-size:18.5px;font-weight:700;color:#111827">status</div>
<div class="t" style="left:856.7px;top:438px;height:24px;line-height:24px;font-size:18.5px;font-weight:700;color:#111827">summary</div>
<div class="t" style="left:1012.3px;top:438px;height:24px;line-height:24px;font-size:18.5px;font-weight:700;color:#111827">severity</div>
<div class="t" style="left:1126.8px;top:438px;height:24px;line-height:24px;font-size:18.5px;font-weight:700;color:#111827">created_at</div>
<div class="t" style="left:1335.9px;top:438px;height:24px;line-height:24px;font-size:18.5px;font-weight:700;color:#111827">description</div>
<div class="a" style="left:531.7px;top:484.1px;width:1016.8px;height:106.4px;background:#dbeafe"></div>
<div class="a" style="left:531.7px;top:590.0px;width:1016.8px;height:1.4px;background:#dcdee2"></div>
<div class="a" style="left:531.7px;top:696.0px;width:1016.8px;height:1.4px;background:#dcdee2"></div>
<div class="a" style="left:531.7px;top:822.5px;width:1016.8px;height:1.4px;background:#dcdee2"></div>
<div class="a" style="left:531.7px;top:948.9px;width:1016.8px;height:1.4px;background:#dcdee2"></div>
<div class="a" style="left:721.1px;top:415px;width:1.4px;height:69px;background:#dcdee2"></div>
<div class="a" style="left:721.1px;top:484.1px;width:1px;height:106.4px;background:#c9dcf5"></div>
<div class="a" style="left:721.1px;top:590.5px;width:1.4px;height:359px;background:#dcdee2"></div>
<div class="a" style="left:834.2px;top:415px;width:1.4px;height:69px;background:#dcdee2"></div>
<div class="a" style="left:834.2px;top:484.1px;width:1px;height:106.4px;background:#c9dcf5"></div>
<div class="a" style="left:834.2px;top:590.5px;width:1.4px;height:359px;background:#dcdee2"></div>
<div class="a" style="left:989.8px;top:415px;width:1.4px;height:69px;background:#dcdee2"></div>
<div class="a" style="left:989.8px;top:484.1px;width:1px;height:106.4px;background:#c9dcf5"></div>
<div class="a" style="left:989.8px;top:590.5px;width:1.4px;height:359px;background:#dcdee2"></div>
<div class="a" style="left:1104.3px;top:415px;width:1.4px;height:69px;background:#dcdee2"></div>
<div class="a" style="left:1104.3px;top:484.1px;width:1px;height:106.4px;background:#c9dcf5"></div>
<div class="a" style="left:1104.3px;top:590.5px;width:1.4px;height:359px;background:#dcdee2"></div>
<div class="a" style="left:1313.4px;top:415px;width:1.4px;height:69px;background:#dcdee2"></div>
<div class="a" style="left:1313.4px;top:484.1px;width:1px;height:106.4px;background:#c9dcf5"></div>
<div class="a" style="left:1313.4px;top:590.5px;width:1.4px;height:359px;background:#dcdee2"></div>
<div class="t" style="left:552.7px;top:507.0px;line-height:20.7px;font-size:16.6px;color:#111827">794208f5-2735-<br>428a-b4af-<br>b071ff0a2962</div>
<div class="t" style="left:743.6px;top:527.7px;line-height:20.7px;font-size:15.4px;color:#111827">PENDING</div>
<div class="t" style="left:856.7px;top:507.0px;line-height:20.7px;font-size:16.6px;color:#111827">Update call-<br>to-action<br>button color</div>
<div class="t" style="left:1012.3px;top:527.7px;line-height:20.7px;font-size:15.4px;color:#111827">LOW</div>
<div class="t" style="left:1126.8px;top:517.4px;line-height:20.7px;font-size:16.6px;color:#111827">2023-01-<br>25T16:13:53.244055</div>
<div class="t" style="left:1335.9px;top:517.4px;line-height:20.7px;font-size:16.6px;color:#111827">The color should be light<br>blue</div>
<div class="t" style="left:552.7px;top:613.3px;line-height:20.7px;font-size:16.6px;color:#111827">eaba8d96-e387-<br>4d2d-8494-<br>096e4143b8fa</div>
<div class="t" style="left:743.6px;top:633.9px;line-height:20.7px;font-size:15.4px;color:#111827">PENDING</div>
<div class="t" style="left:856.7px;top:623.6px;line-height:20.7px;font-size:16.6px;color:#111827">Check for SQL<br>injections</div>
<div class="t" style="left:1012.3px;top:633.9px;line-height:20.7px;font-size:15.4px;color:#111827">HIGH</div>
<div class="t" style="left:1126.8px;top:623.6px;line-height:20.7px;font-size:16.6px;color:#111827">2023-01-<br>25T16:13:53.244055</div>
<div class="t" style="left:1335.9px;top:613.3px;line-height:20.7px;font-size:16.6px;color:#111827">Make sure that SQL can<br>not be injected with calls<br>to the backend</div>
<div class="t" style="left:552.7px;top:729.5px;line-height:20.7px;font-size:16.6px;color:#111827">07da0553-4e6e-<br>4d56-8ded-<br>5fd0f7d5c3c2</div>
<div class="t" style="left:743.6px;top:750.2px;line-height:20.7px;font-size:15.4px;color:#111827">PENDING</div>
<div class="t" style="left:856.7px;top:739.8px;line-height:20.7px;font-size:16.6px;color:#111827">Create search<br>component</div>
<div class="t" style="left:1012.3px;top:750.2px;line-height:20.7px;font-size:15.4px;color:#111827">MEDIUM</div>
<div class="t" style="left:1126.8px;top:739.8px;line-height:20.7px;font-size:16.6px;color:#111827">2023-01-<br>25T16:13:53.244055</div>
<div class="t" style="left:1335.9px;top:719.2px;line-height:20.7px;font-size:16.6px;color:#111827">A new component should<br>be created to allow<br>searching in the<br>application</div>
<div class="t" style="left:552.7px;top:856.0px;line-height:20.7px;font-size:16.6px;color:#111827">a36e4402-51d8-<br>4d15-b566-<br>119088b8cb52</div>
<div class="t" style="left:743.6px;top:876.7px;line-height:20.7px;font-size:15.4px;color:#111827">PENDING</div>
<div class="t" style="left:856.7px;top:876.7px;line-height:20.7px;font-size:16.6px;color:#111827">Fix CORS error</div>
<div class="t" style="left:1012.3px;top:876.7px;line-height:20.7px;font-size:15.4px;color:#111827">HIGH</div>
<div class="t" style="left:1126.8px;top:866.3px;line-height:20.7px;font-size:16.6px;color:#111827">2023-01-<br>25T16:13:53.244055</div>
<div class="t" style="left:1335.9px;top:845.6px;line-height:20.7px;font-size:16.6px;color:#111827">A Cross Origin Resource<br>Sharing error occurs<br>when trying to load the<br>"kitty.png" image</div>
<div class="a" style="left:531.7px;top:963.7px;width:1016.8px;height:1.4px;background:#dcdee2"></div>
<div class="a" style="left:1408.3px;top:970.8px;width:129.2px;height:32.5px;border:1.5px solid #d8dbe0;border-radius:7px;background:#fff"></div>
<svg class="a" style="left:1425px;top:978px" width="16" height="17" viewBox="0 0 16 17"><path d="M8 1V11M3.8 6.8L8 11L12.2 6.8" fill="none" stroke="#2f3b4d" stroke-width="2"/><path d="M1.5 11.5V15H14.5V11.5" fill="none" stroke="#2f3b4d" stroke-width="2"/></svg>
<div class="t" style="left:1446px;top:977px;height:20px;line-height:20px;font-size:15.6px;font-weight:700;color:#2f3b4d">Download</div>
<svg class="a" style="left:1539px;top:999px" width="9" height="9" viewBox="0 0 9 9"><path d="M8 1.5V8H1.5" fill="none" stroke="#8a8f98" stroke-width="1.8"/></svg>
<div class="a cc" style="left:517.5px;top:354.2px;width:32.1px;height:26.4px;background:#e5e7eb;border:1px solid #d6d9de;color:#6b7280;font-weight:700;font-size:15.2px;box-shadow:0 1px 2px rgba(0,0,0,.08)">b</div>
<div class="a" style="left:1564.7px;top:360.7px;width:331.4px;height:367.8px;background:#fff;border:2px solid #5b8def"></div>
<div class="a" style="left:1585.2px;top:376.4px;width:49.7px;height:12.8px;background:#ff6384"></div>
<div class="t" style="left:1644.4px;top:373px;height:20px;line-height:20px;font-size:15.2px;color:#666">Pie</div>
<div class="a" style="left:1680.3px;top:376.4px;width:49.7px;height:12.8px;background:#4bc0c0"></div>
<div class="t" style="left:1739.3px;top:373px;height:20px;line-height:20px;font-size:15.2px;color:#666">Charts</div>
<div class="a" style="left:1799.9px;top:376.4px;width:49.7px;height:12.8px;background:#ffcd56"></div>
<div class="t" style="left:1858.9px;top:373px;height:20px;line-height:20px;font-size:15.2px;color:#666">&lt;3</div>
<svg class="a" style="left:1568.8px;top:403.9px" width="324" height="324" viewBox="-162 -162 324 324"><path d="M0 0V-160A160 160 0 0 1 160 0Z" fill="#ff6384"/><path d="M0 0H160A160 160 0 0 1 -160 0Z" fill="#4bc0c0"/><path d="M0 0H-160A160 160 0 0 1 0 -160Z" fill="#ffcd56"/><path d="M0 -162V0M-162 0H162" stroke="#fff" stroke-width="3"/></svg>
<svg class="a" style="left:1885px;top:717px" width="8" height="8" viewBox="0 0 8 8"><path d="M7 1V7H1" fill="none" stroke="#8a8f98" stroke-width="1.8"/></svg>
<div class="a" style="left:1772.8px;top:354.6px;width:30.2px;height:24.7px;background:#f3f4f6;border:1px solid #e0e3e8;border-radius:3px"></div>
<svg class="a" style="left:1778.5px;top:357.5px" width="19" height="19" viewBox="0 0 20 20"><path d="M10 1.5V18.5M1.5 10H18.5M7.5 4L10 1.5L12.5 4M7.5 16L10 18.5L12.5 16M4 7.5L1.5 10L4 12.5M16 7.5L18.5 10L16 12.5" fill="none" stroke="#374151" stroke-width="1.7"/></svg>
<div class="a" style="left:1814.2px;top:354.6px;width:30.6px;height:24.7px;background:#f3f4f6;border:1px solid #e0e3e8;border-radius:3px"></div>
<svg class="a" style="left:1819.5px;top:357px" width="20" height="20" viewBox="0 0 20 20"><circle cx="10" cy="3.2" r="2" fill="none" stroke="#111827" stroke-width="1.7"/><path d="M10 5.2V18.5M2.5 11.5C2.5 15.5 6 18.5 10 18.5S17.5 15.5 17.5 11.5M6.5 9H13.5" fill="none" stroke="#111827" stroke-width="1.8"/></svg>
<div class="a cc" style="left:1552.8px;top:354.1px;width:31.6px;height:27.1px;background:#6366f1;color:#fff;font-weight:700;font-size:15.2px">c</div>
<div class="a" style="left:481px;top:1062.2px;width:1464px;height:1.4px;background:#d6d9dd"></div>
<div class="a" style="left:846.8px;top:1063px;width:1.3px;height:367px;background:#dcdfe3"></div>
<div class="t" style="left:491.3px;top:1075px;height:24px;line-height:24px;font-size:19px;font-weight:700;color:#111827">Inline scripts</div>
<div class="a" style="left:491.3px;top:1111.2px;width:344.6px;height:53.7px;border:1px solid #e5e7eb;border-radius:3px"></div>
<div class="t" style="left:503.2px;top:1127.5px;height:20px;line-height:20px;font-size:16.1px;color:#111827">Shape Data</div>
<div class="a cc" style="left:788.1px;top:1127.2px;width:36.1px;height:25.7px;background:#6366f1;border-radius:4px;color:#fff;font-weight:700;font-size:16px">b</div>
<div class="t" style="left:491.3px;top:1208.5px;height:24px;line-height:24px;font-size:19.1px;font-weight:700;color:#111827">Imported scripts</div>
<div class="t" style="left:491.3px;top:1245px;height:24px;line-height:24px;font-size:19.3px;color:#6b7280">No items</div>
<div class="t" style="left:491.3px;top:1318.5px;height:24px;line-height:24px;font-size:18.8px;font-weight:700;color:#111827">Background scripts</div>
<div class="a" style="left:701.7px;top:1312.4px;width:80px;height:35.9px;background:#374151;border-radius:7px"></div>
<svg class="a" style="left:717px;top:1323px" width="14" height="14" viewBox="0 0 14 14"><path d="M7 1V13M1 7H13" stroke="#fff" stroke-width="1.8"/></svg>
<div class="t" style="left:735.3px;top:1320px;height:20px;line-height:20px;font-size:15.6px;font-weight:700;color:#fff">Add</div>
<div class="a" style="left:817.5px;top:1323.7px;width:16.2px;height:16.2px;border-radius:50%;background:#6b7280"></div>
<svg class="a" style="left:817.5px;top:1323.7px" width="16.2" height="16.2" viewBox="0 0 17 17"><circle cx="8.5" cy="5" r="1.3" fill="#fff"/><path d="M7 7.5H9.3V12.3H10.3V13.1H6.9V12.3H7.9V8.3H7Z" fill="#fff"/></svg>
<div class="a" style="left:491.3px;top:1359.4px;width:344.6px;height:48.6px;border:1px solid #e5e7eb;border-radius:7px"></div>
<div class="t" style="left:503.2px;top:1373.5px;height:20px;line-height:20px;font-size:16.2px;color:#111827">Load Issues</div>
<div class="a cc" style="left:706.5px;top:1371.4px;width:117.7px;height:24.7px;background:#fef9c3;border-radius:4px;color:#854d0e;font-weight:700;font-size:15.6px">Background</div>
<div class="a" style="left:491.3px;top:1419.5px;width:344.6px;height:30px;border:1px solid #e5e7eb;border-radius:7px"></div>

<!-- ============ RIGHT PANEL ============ -->
<div class="a" style="left:1946px;top:251px;width:480px;height:1px;background:#e5e7eb"></div>
<div class="a" style="left:2071px;top:248px;width:146px;height:3px;background:#374151"></div>
<svg class="a" style="left:1973.5px;top:219px" width="17" height="17" viewBox="0 0 17 17"><path d="M8.5 1V16M1 8.5H16" stroke="#4b5563" stroke-width="2.3"/></svg>
<div class="t" style="left:2002px;top:216.5px;height:22px;line-height:22px;font-size:16.9px;color:#4b5563">Insert</div>
<svg class="a" style="left:2097px;top:217.5px" width="21" height="19" viewBox="0 0 21 19"><g stroke="#111827" stroke-width="1.7" fill="#fff"><path d="M1 3.2H20M1 9.5H20M1 15.8H20"/><circle cx="8" cy="3.2" r="2.2"/><circle cx="14" cy="9.5" r="2.2"/><circle cx="6.5" cy="15.8" r="2.2"/></g></svg>
<div class="t" style="left:2128.7px;top:216.5px;height:22px;line-height:22px;font-size:17px;color:#111827">Settings</div>
<div class="t" style="left:1957.2px;top:264.5px;height:24px;line-height:24px;font-size:19.1px;font-weight:700;color:#111827">Input</div>
<div class="a cc" style="left:2157.5px;top:262.9px;width:29px;height:26.8px;background:#6366f1;border-radius:3px;color:#fff;font-weight:700;font-size:15.2px">c</div>
<div class="a cc" style="left:2340.2px;top:263.9px;width:75.7px;height:25px;background:#dbeafe;border-radius:5px;color:#1e40af;font-weight:700;font-size:15.6px">Object</div>
<div class="a" style="left:1957.2px;top:301px;width:458.7px;height:38.6px;border:1.5px solid #d8dbe0;border-radius:8px"></div>
<div class="a" style="left:2109px;top:302px;width:1.5px;height:37px;background:#d8dbe0"></div>
<div class="a" style="left:2262.2px;top:301px;width:153.7px;height:38.6px;background:#111827;border:2px solid #1d5fd8;border-radius:0 8px 8px 0"></div>
<svg class="a" style="left:2002px;top:312.5px" width="15" height="15" viewBox="0 0 15 15"><path d="M11 0.8L14.2 4L5 13.2L0.8 14.2L1.8 10Z" fill="#2f3b4d"/><path d="M9.3 2.5L12.5 5.7" stroke="#fff" stroke-width="1.2"/></svg>
<div class="t" style="left:2021.5px;top:310px;height:20px;line-height:20px;font-size:15.9px;font-weight:700;color:#2f3b4d">Static</div>
<svg class="a" style="left:2144px;top:313px" width="16" height="14" viewBox="0 0 16 14"><path d="M1 7H14.5M8.5 1L14.5 7L8.5 13" fill="none" stroke="#2f3b4d" stroke-width="1.9"/></svg>
<div class="t" style="left:2163.5px;top:310px;height:20px;line-height:20px;font-size:15.9px;font-weight:700;color:#2f3b4d">Connect</div>
<svg class="a" style="left:2293.5px;top:313px" width="16" height="14" viewBox="0 0 16 14"><path d="M4.5 3L1 7L4.5 11M11.5 3L15 7L11.5 11M9.5 1.5L6.5 12.5" fill="none" stroke="#fff" stroke-width="1.6"/></svg>
<div class="t" style="left:2314.4px;top:310px;height:20px;line-height:20px;font-size:15.9px;font-weight:700;color:#fff">Compute</div>
<div class="a" style="left:1957.2px;top:361.3px;width:458.7px;height:43.2px;border:1.5px solid #dfe2e6;border-radius:8px"></div>
<svg class="a" style="left:2080px;top:375px" width="16" height="16" viewBox="0 0 16 16"><path d="M8 1V15M1 8H15" stroke="#2f3b4d" stroke-width="2.1"/></svg>
<div class="t" style="left:2100.3px;top:371px;height:24px;line-height:24px;font-size:18.4px;font-weight:700;color:#2f3b4d">Create an inline script</div>
<div class="a" style="left:1957.2px;top:416.1px;width:458.7px;height:41.2px;background:#6186b3;border-radius:8px"></div>
<svg class="a" style="left:2082.5px;top:428.5px" width="13" height="17" viewBox="0 0 13 17"><path d="M1 1L12 10.2H6.8L9.5 15.6L7.8 16.4L5.2 11L1 14.5Z" fill="#fff"/></svg>
<div class="t" style="left:2098.9px;top:424.5px;height:24px;line-height:24px;font-size:18.4px;font-weight:700;color:#fff">Select a script or flow</div>
<div class="a" style="left:1946px;top:478.5px;width:480px;height:1px;background:#e5e7eb"></div>
<div class="t" style="left:1967.7px;top:502px;height:24px;line-height:24px;font-size:19.3px;font-weight:700;color:#111827">Configuration (2)</div>
<div class="t" style="left:1967.7px;top:538.5px;height:24px;line-height:24px;font-size:18.7px;font-weight:700;color:#111827">Theme</div>
<div class="a cc" style="left:2334px;top:537.9px;width:71.8px;height:24.9px;background:#dbeafe;border-radius:5px;color:#1e40af;font-weight:700;font-size:15.5px">String</div>
<div class="a" style="left:1967.7px;top:569.3px;width:438.1px;height:43.3px;border:1.5px solid #d8dbe0;border-radius:8px;box-shadow:0 1px 2px rgba(0,0,0,.05)"></div>
<div class="t" style="left:1979.4px;top:578.5px;height:24px;line-height:24px;font-size:18.7px;color:#111827">theme1</div>
<svg class="a" style="left:2373px;top:586.5px" width="15" height="9" viewBox="0 0 15 9"><path d="M1.2 1.2L7.5 7.5L13.8 1.2" fill="none" stroke="#374151" stroke-width="1.8"/></svg>
<div class="t" style="left:1967.7px;top:635.5px;height:24px;line-height:24px;font-size:18.4px;font-weight:700;color:#111827">Doughnut Style</div>
<div class="a cc" style="left:2318.4px;top:634.6px;width:87.4px;height:25.1px;background:#dbeafe;border-radius:5px;color:#1e40af;font-weight:700;font-size:15.5px">Boolean</div>
<div class="a" style="left:1967.7px;top:676.6px;width:56.5px;height:29.8px;background:#e5e7eb;border-radius:15px"></div>
<div class="a" style="left:1969.5px;top:678.3px;width:26.4px;height:26.4px;background:#fff;border:1px solid #d1d5db;border-radius:50%;box-shadow:0 1px 2px rgba(0,0,0,.1)"></div>
<div class="a" style="left:1946px;top:736.5px;width:480px;height:1px;background:#e5e7eb"></div>
<div class="t" style="left:1967.7px;top:760px;height:24px;line-height:24px;font-size:18.9px;font-weight:700;color:#111827">Danger zone</div>
<div class="a" style="left:1967.7px;top:796px;width:208.2px;height:38.2px;border:1.5px solid #dc2626;border-radius:7px"></div>
<svg class="a" style="left:1983.5px;top:807.5px" width="13" height="16" viewBox="0 0 13 16"><path d="M4.5 0.8H8.5V2.2H12.5V4H0.5V2.2H4.5Z" fill="#dc2626"/><path d="M1.5 5H11.5L10.8 15.2H2.2Z" fill="#dc2626"/><path d="M4.5 7V13.5M6.5 7V13.5M8.5 7V13.5" stroke="#fff" stroke-width="1"/></svg>
<div class="t" style="left:2002.7px;top:805px;height:20px;line-height:20px;font-size:15.9px;font-weight:700;color:#dc2626">Delete component: c</div>

<div class="a" style="left:0;top:1430px;width:2500px;height:97px;background:#000"></div>
<!-- corner masks -->
<div class="a" style="left:73px;top:1418px;width:12px;height:12px;background:radial-gradient(circle at 100% 0,transparent 11.5px,#000 12.2px)"></div>
<div class="a" style="left:2414px;top:1418px;width:12px;height:12px;background:radial-gradient(circle at 0 0,transparent 11.5px,#000 12.2px)"></div>
<div class="a" style="left:73px;top:49px;width:12px;height:12px;background:radial-gradient(circle at 100% 100%,transparent 11.5px,#000 12.2px)"></div>
<div class="a" style="left:2414px;top:49px;width:12px;height:12px;background:radial-gradient(circle at 0 100%,transparent 11.5px,#000 12.2px)"></div>
<div class="a" style="left:73px;top:49px;width:2353px;height:1381px;border-radius:12px;border:1px solid rgba(255,255,255,0.22)"></div>
</body></html>
